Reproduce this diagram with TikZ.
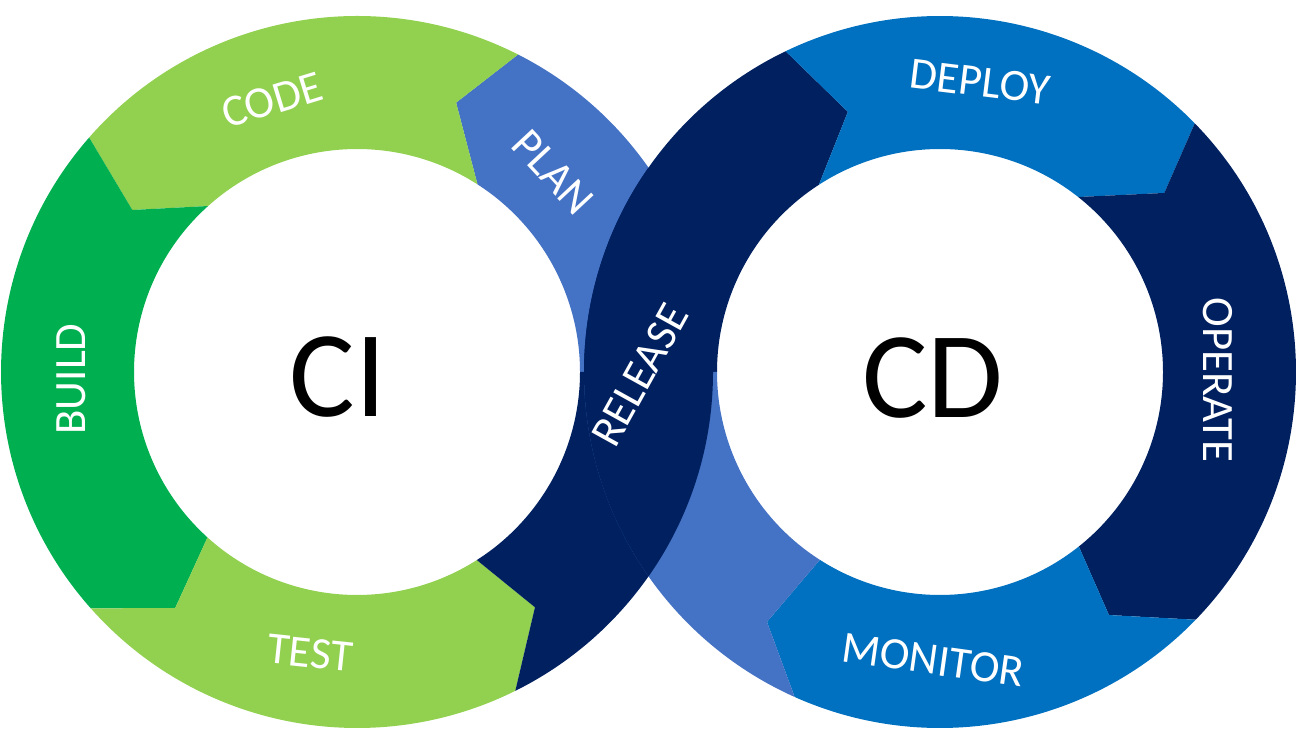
\documentclass[tikz,border=0pt]{standalone}
\usepackage{fontspec}
\setmainfont{Carlito}
\usepackage{tikz}
\usetikzlibrary{calc}

\definecolor{limegreen}{HTML}{92D050}
\definecolor{leafgreen}{HTML}{00B050}
\definecolor{planblue}{HTML}{4472C4}
\definecolor{deployblue}{HTML}{0070C0}
\definecolor{navyblue}{HTML}{002060}

\begin{document}
\begin{tikzpicture}[x=0.02cm, y=0.02cm,
    stage/.style={text=white, font=\fontsize{25.5}{30}\selectfont},
    loopname/.style={text=black, font=\fontsize{70}{82}\selectfont}]
\useasboundingbox (0,0) rectangle (1297,730);
% ring centres (outer radius 356, inner radius 223)
\coordinate (ci) at (357,358);
\coordinate (cd) at (940,358);
% segments: centre/colour/start cut (outer, tip, tip radius, inner)/end cut (outer, tip, tip radius, inner)
\foreach \ctr/\fillcol/\ao/\at/\rt/\ai/\bo/\bt/\rb/\bi in {
    ci/planblue/0/0/290/0/63.1/69.8/287/57.3,
    ci/limegreen/63.1/69.8/287/57.3/138.8/144.2/277/131.9,
    ci/leafgreen/138.8/144.2/277/131.9/221.6/232.4/298/227.9,
    ci/limegreen/221.6/232.4/298/227.9/296.4/307.1/295/302.5,
    ci/navyblue/296.4/307.1/295/302.5/360/360/290/360,
    cd/navyblue/180/180/290/180/115.7/109.5/276/122.9,
    cd/deployblue/115.7/109.5/276/122.9/44.3/38.6/287/51.7,
    cd/navyblue/44.3/38.6/287/51.7/-44.1/-55.2/296/-51.5,
    cd/deployblue/-44.1/-55.2/296/-51.5/-114.1/-124.7/304/-122.6,
    cd/planblue/-114.1/-124.7/304/-122.6/-180/-180/290/-180} {
  \fill[\fillcol] ($(\ctr)+(\ao:356)$) arc[start angle=\ao, end angle=\bo, radius=356]
    -- ($(\ctr)+(\bt:\rb)$) -- ($(\ctr)+(\bi:223)$)
    arc[start angle=\bi, end angle=\ai, radius=223]
    -- ($(\ctr)+(\at:\rt)$) -- cycle;
}
% crossing of the two loops (release band on top)
\begin{scope}
  \clip (ci) circle[radius=356];
  \fill[navyblue] (cd) circle[radius=356];
\end{scope}
% stage labels
\node[stage, rotate=17] (code) at (272,630) {CODE};
\node[stage, rotate=-47] (plan) at (553,558) {PLAN};
\node[stage, rotate=90] (build) at (71,351) {BUILD};
\node[stage, rotate=-6] (test) at (310,77) {TEST};
\node[stage, rotate=61] (release) at (640,355) {RELEASE};
\node[stage, rotate=-7] (deploy) at (980,648) {DEPLOY};
\node[stage, rotate=-90] (operate) at (1218,350) {OPERATE};
\node[stage, rotate=-8] (monitor) at (933,70) {MONITOR};
% loop names
\node[loopname] (ci-name) at (338,353) {CI};
\node[loopname] (cd-name) at (933,352) {CD};
\end{tikzpicture}
\end{document}
